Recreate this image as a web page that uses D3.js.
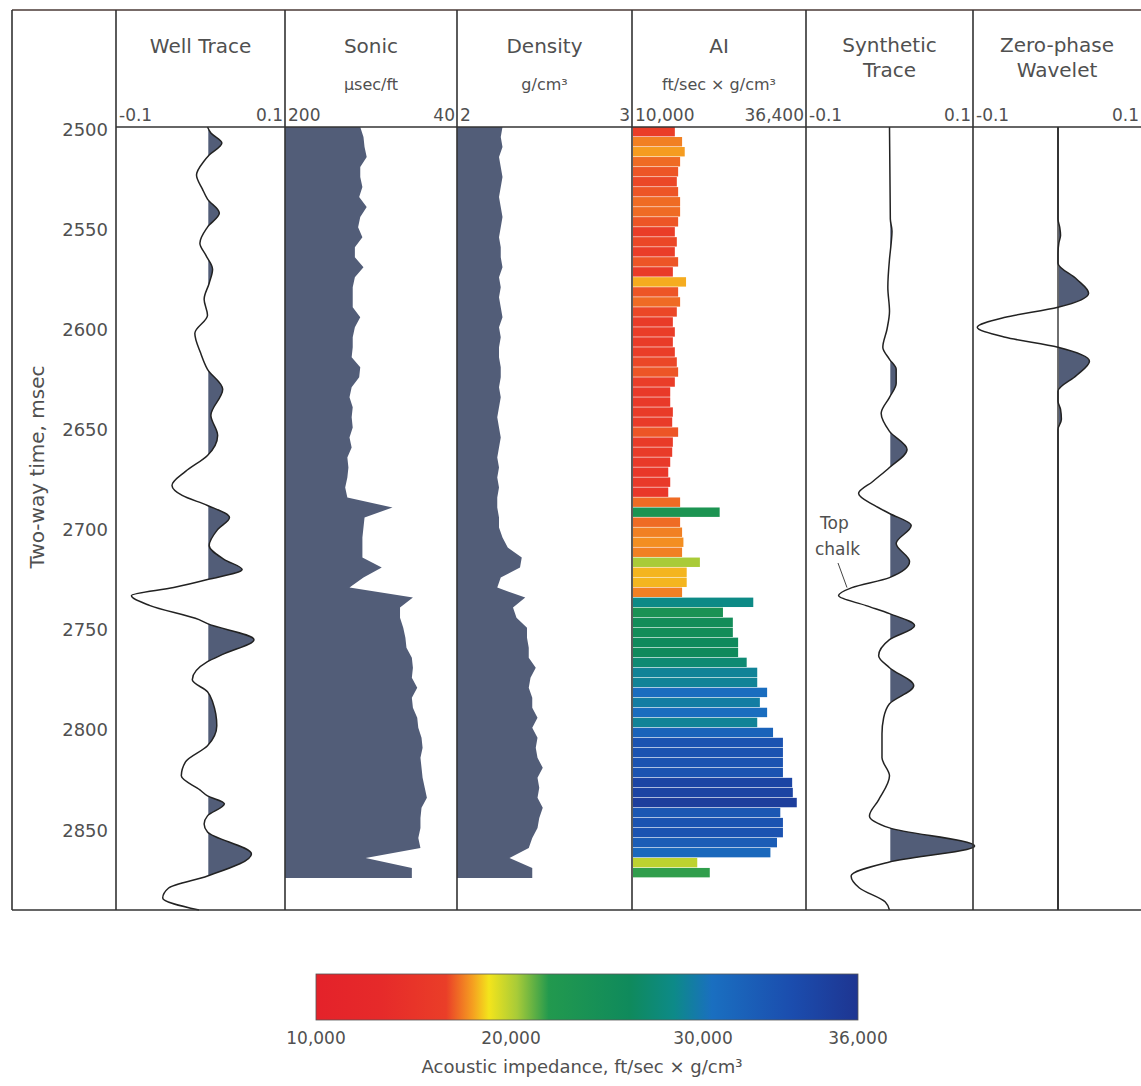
<!DOCTYPE html>
<html>
<head>
<meta charset="utf-8">
<script src="https://cdn.jsdelivr.net/npm/d3@7"></script>
<style>
  body { margin: 0; background: #fff; }
  svg { display: block; font-family: 'DejaVu Sans', sans-serif; }
</style>
</head>
<body>
<svg id="chart" width="1141" height="1086"></svg>
<script>
// ---- data ----
var timeTicks = [2500, 2550, 2600, 2650, 2700, 2750, 2800, 2850];

// logs sampled every 5 msec from 2500
var logStart = 2500;
var logStep = 5;

var sonic = [130, 127, 126, 124, 130, 130, 128, 131, 124, 130,
  132, 128, 135, 135, 127, 135, 137, 137, 137, 130,
  135, 137, 137, 138, 130, 131, 138, 140, 137, 138,
  137, 140, 138, 142, 141, 142, 144, 142, 100, 126,
  127, 128, 128, 128, 110, 127, 140, 81, 93, 93,
  90, 88, 87, 82, 81, 82, 77, 82, 81, 77,
  76, 73, 72, 74, 73, 72, 70, 68, 73, 74,
  74, 76, 74, 125, 82];

var density = [2.26, 2.25, 2.26, 2.24, 2.25, 2.26, 2.25, 2.24, 2.25, 2.26,
  2.25, 2.24, 2.25, 2.25, 2.26, 2.24, 2.25, 2.24, 2.25, 2.26,
  2.24, 2.25, 2.24, 2.24, 2.25, 2.25, 2.24, 2.25, 2.24, 2.23,
  2.24, 2.25, 2.24, 2.23, 2.24, 2.23, 2.24, 2.23, 2.23, 2.24,
  2.24, 2.26, 2.29, 2.37, 2.36, 2.25, 2.23, 2.39, 2.32, 2.34,
  2.40, 2.40, 2.41, 2.41, 2.45, 2.42, 2.41, 2.43, 2.43, 2.46,
  2.43, 2.46, 2.45, 2.46, 2.49, 2.46, 2.47, 2.46, 2.49, 2.47,
  2.46, 2.43, 2.41, 2.30, 2.43];

var ai = [16500, 17600, 18000, 17300, 17000, 16800, 17000, 17300, 17300, 17000,
  16500, 16800, 16500, 17000, 16200, 18200, 17000, 17300, 16800, 16200,
  16500, 16200, 16500, 16800, 17000, 16500, 15800, 15800, 16200, 16100,
  17000, 16200, 16100, 15800, 15500, 15800, 15500, 17300, 23300, 17300,
  17600, 17800, 17600, 20300, 18300, 18300, 17600, 28400, 23800, 25300,
  25300, 26100, 26100, 27400, 29000, 29000, 30500, 29400, 30500, 29000,
  31400, 32900, 32900, 32900, 32900, 34300, 34400, 35000, 32500, 32900,
  32900, 32000, 31000, 19900, 21800];

// wiggle traces: [time msec, amplitude]
var wellTrace = [[2500, 0], [2503, 0.004], [2508, 0.017], [2514, 0.002], [2517, -0.004],
  [2524, -0.013], [2531, -0.006], [2536, 0], [2543, 0.014], [2550, 0],
  [2558, -0.009], [2564, -0.002], [2571, 0.006], [2578, 0.002], [2586, -0.004],
  [2594, 0], [2603, -0.015], [2613, -0.008], [2621, 0], [2631, 0.018],
  [2644, 0.004], [2654, 0.012], [2664, 0], [2672, -0.026], [2679, -0.042],
  [2684, -0.03], [2689, 0], [2695, 0.026], [2701, 0.012], [2709, 0.002],
  [2716, 0.02], [2721, 0.041], [2726, 0], [2730, -0.04], [2734, -0.09],
  [2739, -0.068], [2746, -0.01], [2748, 0], [2756, 0.055], [2763, 0.02],
  [2767, 0], [2776, -0.018], [2782, 0], [2787, 0.006], [2799, 0.011],
  [2809, 0], [2817, -0.026], [2824, -0.031], [2831, -0.009], [2834, 0],
  [2838, 0.02], [2844, 0], [2848, -0.004], [2852, 0], [2863, 0.052],
  [2874, 0], [2880, -0.046], [2885, -0.053], [2891, -0.01]];

var synthetic = [[2500, 0], [2546, 0.001], [2552, 0.003], [2558, 0.002], [2566, 0],
  [2580, -0.002], [2592, 0], [2601, -0.003], [2610, -0.008], [2616, 0],
  [2621, 0.008], [2628, 0.008], [2635, 0], [2643, -0.01], [2652, 0],
  [2661, 0.021], [2670, 0], [2677, -0.02], [2683, -0.037], [2689, -0.018],
  [2693, 0], [2699, 0.026], [2708, 0.008], [2717, 0.024], [2725, 0],
  [2730, -0.045], [2734, -0.061], [2739, -0.028], [2743, 0], [2749, 0.03],
  [2756, 0], [2764, -0.013], [2770, 0], [2779, 0.029], [2788, 0],
  [2795, -0.007], [2803, -0.009], [2815, -0.009], [2824, 0], [2836, -0.013],
  [2844, -0.024], [2850, 0], [2859, 0.102], [2867, 0], [2874, -0.046],
  [2880, -0.036], [2887, -0.005], [2891, 0]];

var wavelet = [[2500, 0], [2546, 0], [2550, 0.002], [2554, 0.003], [2558, 0.001],
  [2563, 0], [2568, 0], [2576, 0.022], [2583, 0.036], [2590, 0],
  [2595, -0.062], [2600, -0.095], [2605, -0.062], [2610, 0], [2617, 0.037],
  [2624, 0.022], [2632, 0], [2637, 0], [2641, 0.003], [2646, 0.004],
  [2651, 0], [2891, 0]];

var trackTitles = [['Well Trace'], ['Sonic'], ['Density'], ['AI'], ['Synthetic', 'Trace'], ['Zero-phase', 'Wavelet']];
var trackUnits = ['', 'µsec/ft', 'g/cm³', 'ft/sec × g/cm³', '', ''];
var scaleLeft = ['-0.1', '200', '2', '10,000', '-0.1', '-0.1'];
var scaleRight = ['0.1', '40', '3', '36,400', '0.1', '0.1'];

// colour bar stops (acoustic impedance -> colour)
var aiStops = [10000, 13330, 16670, 18050, 18870, 20310, 21970, 26190, 28490, 30350, 33440, 36000];
var aiColours = ['#e4222a', '#e62a2a', '#ea3e28', '#f5a020', '#f3e41c', '#a8cb38',
  '#22994e', '#0f8a5c', '#0d8a88', '#1a6fc0', '#1b4dae', '#1e3591'];
var legendTicks = [10000, 20000, 30000, 36000];

// ---- layout ----
var edges = [116, 285, 457, 632, 806, 973, 1143];
var plotTop = 127, plotBottom = 910;
var fillColour = '#525d78';
var inkColour = '#505050';

var svg = d3.select('#chart');

var yScale = d3.scaleLinear()
  .domain([2500, 2891])
  .range([plotTop, plotBottom]);

var times = d3.range(logStart, logStart + sonic.length * logStep, logStep);
var logEnd = logStart + sonic.length * logStep;

// ---- log tracks ----
function logArea(values, xScale) {
  var pts = times.map(function (t, i) { return [t, values[i]]; });
  pts.push([logEnd, values[values.length - 1]]);
  var area = d3.area()
    .y(function (d) { return yScale(d[0]); })
    .x0(xScale.range()[0])
    .x1(function (d) { return xScale(d[1]); });
  svg.append('path')
    .datum(pts)
    .attr('d', area)
    .attr('fill', fillColour);
}

var sonicX = d3.scaleLinear().domain([200, 40]).range([edges[1], edges[2]]);
var densityX = d3.scaleLinear().domain([2, 3]).range([edges[2], edges[3]]);
var aiX = d3.scaleLinear().domain([10000, 36400]).range([edges[3], edges[4]]);

logArea(sonic, sonicX);
logArea(density, densityX);

var aiColour = d3.scaleLinear()
  .domain(aiStops)
  .range(aiColours)
  .clamp(true);

svg.append('g')
  .selectAll('rect')
  .data(ai)
  .enter()
  .append('rect')
  .attr('x', aiX(10000) + 1)
  .attr('y', function (d, i) { return yScale(times[i]); })
  .attr('height', yScale(2500 + logStep) - yScale(2500) - 0.6)
  .attr('width', function (d) { return aiX(d) - aiX(10000) - 1; })
  .attr('fill', function (d) { return aiColour(d); });

// ---- wiggle traces ----
function wiggle(data, xScale, id, drawZero) {
  var zero = xScale(0);
  svg.append('clipPath')
    .attr('id', id)
    .append('rect')
    .attr('x', zero + 0.8)
    .attr('y', plotTop)
    .attr('width', 200)
    .attr('height', plotBottom - plotTop);

  var area = d3.area()
    .curve(d3.curveMonotoneY)
    .y(function (d) { return yScale(d[0]); })
    .x0(zero)
    .x1(function (d) { return xScale(d[1]); });
  var line = d3.line()
    .curve(d3.curveMonotoneY)
    .x(function (d) { return xScale(d[1]); })
    .y(function (d) { return yScale(d[0]); });

  svg.append('path')
    .datum(data)
    .attr('d', area)
    .attr('clip-path', 'url(#' + id + ')')
    .attr('fill', fillColour);
  if (drawZero) {
    svg.append('line')
      .attr('x1', zero).attr('x2', zero)
      .attr('y1', plotTop).attr('y2', plotBottom)
      .attr('stroke', '#333')
      .attr('stroke-width', 1.4);
  }
  svg.append('path')
    .datum(data)
    .attr('d', line)
    .attr('fill', 'none')
    .attr('stroke', '#222')
    .attr('stroke-width', 1.5);
}

// well trace zero sits a little right of the track centre in the figure
var wellX = d3.scaleLinear().domain([-0.1, 0.1]).range([edges[0] + 7, edges[1] + 7]);
var synthX = d3.scaleLinear().domain([-0.1, 0.1]).range([edges[4], edges[5]]);
var waveX = d3.scaleLinear().domain([-0.1, 0.1]).range([edges[5], edges[6]]);

wiggle(wellTrace, wellX, 'clipWell', false);
wiggle(synthetic, synthX, 'clipSynth', false);
wiggle(wavelet, waveX, 'clipWave', true);

// ---- frame ----
var frame = svg.append('g')
  .attr('stroke', '#333')
  .attr('stroke-width', 1.6)
  .attr('fill', 'none');
frame.append('line').attr('x1', 12).attr('x2', 1141).attr('y1', 10).attr('y2', 10).attr('stroke', '#4a3a36');
frame.append('line').attr('x1', 12).attr('x2', 1141).attr('y1', plotBottom).attr('y2', plotBottom);
frame.append('line').attr('x1', 12).attr('x2', 12).attr('y1', 10).attr('y2', plotBottom);
frame.append('line').attr('x1', edges[0]).attr('x2', 1141).attr('y1', plotTop).attr('y2', plotTop);
frame.selectAll('.col')
  .data(edges)
  .enter()
  .append('line')
  .attr('class', 'col')
  .attr('x1', function (d) { return d; })
  .attr('x2', function (d) { return d; })
  .attr('y1', 10)
  .attr('y2', plotBottom);

// ---- headers ----
var headers = svg.append('g')
  .attr('fill', inkColour)
  .attr('text-anchor', 'middle');

trackTitles.forEach(function (lines, i) {
  var cx = (edges[i] + Math.min(edges[i + 1], 1141)) / 2;
  lines.forEach(function (s, j) {
    headers.append('text')
      .attr('x', cx)
      .attr('y', lines.length === 1 ? 53 : 52 + j * 25)
      .attr('font-size', 20)
      .text(s);
  });
  if (trackUnits[i]) {
    headers.append('text')
      .attr('x', cx)
      .attr('y', 90)
      .attr('font-size', 16)
      .text(trackUnits[i]);
  }
  headers.append('text')
    .attr('x', edges[i] + 3)
    .attr('y', 121)
    .attr('font-size', 17)
    .attr('text-anchor', 'start')
    .text(scaleLeft[i]);
  headers.append('text')
    .attr('x', Math.min(edges[i + 1], 1141) - 2)
    .attr('y', 121)
    .attr('font-size', 17)
    .attr('text-anchor', 'end')
    .text(scaleRight[i]);
});

// ---- time axis ----
var yAxis = d3.axisLeft(yScale)
  .tickValues(timeTicks)
  .tickSize(0)
  .tickPadding(0)
  .tickFormat(d3.format('d'));

svg.append('g')
  .attr('transform', 'translate(108, 0)')
  .call(yAxis)
  .call(function (g) { g.select('.domain').remove(); })
  .selectAll('text')
  .attr('font-family', 'DejaVu Sans, sans-serif')
  .attr('font-size', 18)
  .attr('fill', inkColour)
  .attr('dy', '0.45em');

svg.append('text')
  .attr('transform', 'translate(44, 467) rotate(-90)')
  .attr('text-anchor', 'middle')
  .attr('font-size', 20)
  .attr('fill', inkColour)
  .text('Two-way time, msec');

// top chalk annotation
var note = svg.append('g').attr('fill', inkColour).attr('font-size', 17);
note.append('text').attr('x', 820).attr('y', 529).text('Top');
note.append('text').attr('x', 815).attr('y', 555).text('chalk');
svg.append('line')
  .attr('x1', 838).attr('y1', 563)
  .attr('x2', 847).attr('y2', yScale(2730))
  .attr('stroke', '#444')
  .attr('stroke-width', 1);

// ---- colour bar legend ----
var legendX = d3.scaleLinear()
  .domain([10000, 20000, 30000, 36000])
  .range([316, 511, 703, 858]);

var defs = svg.append('defs');
var grad = defs.append('linearGradient')
  .attr('id', 'aiGrad')
  .attr('x1', '0%').attr('x2', '100%')
  .attr('y1', '0%').attr('y2', '0%');
grad.selectAll('stop')
  .data(aiStops)
  .enter()
  .append('stop')
  .attr('offset', function (d) { return (legendX(d) - 316) / (858 - 316); })
  .attr('stop-color', function (d, i) { return aiColours[i]; });

svg.append('rect')
  .attr('x', 316)
  .attr('y', 974)
  .attr('width', 858 - 316)
  .attr('height', 46)
  .attr('fill', 'url(#aiGrad)')
  .attr('stroke', '#555')
  .attr('stroke-width', 0.8);

svg.append('g')
  .selectAll('text')
  .data(legendTicks)
  .enter()
  .append('text')
  .attr('x', function (d) { return legendX(d); })
  .attr('y', 1044)
  .attr('text-anchor', 'middle')
  .attr('font-size', 17)
  .attr('fill', inkColour)
  .text(function (d) { return d3.format(',')(d); });

svg.append('text')
  .attr('x', 582)
  .attr('y', 1073)
  .attr('text-anchor', 'middle')
  .attr('font-size', 18)
  .attr('fill', inkColour)
  .text('Acoustic impedance, ft/sec × g/cm³');
</script>
</body>
</html>
